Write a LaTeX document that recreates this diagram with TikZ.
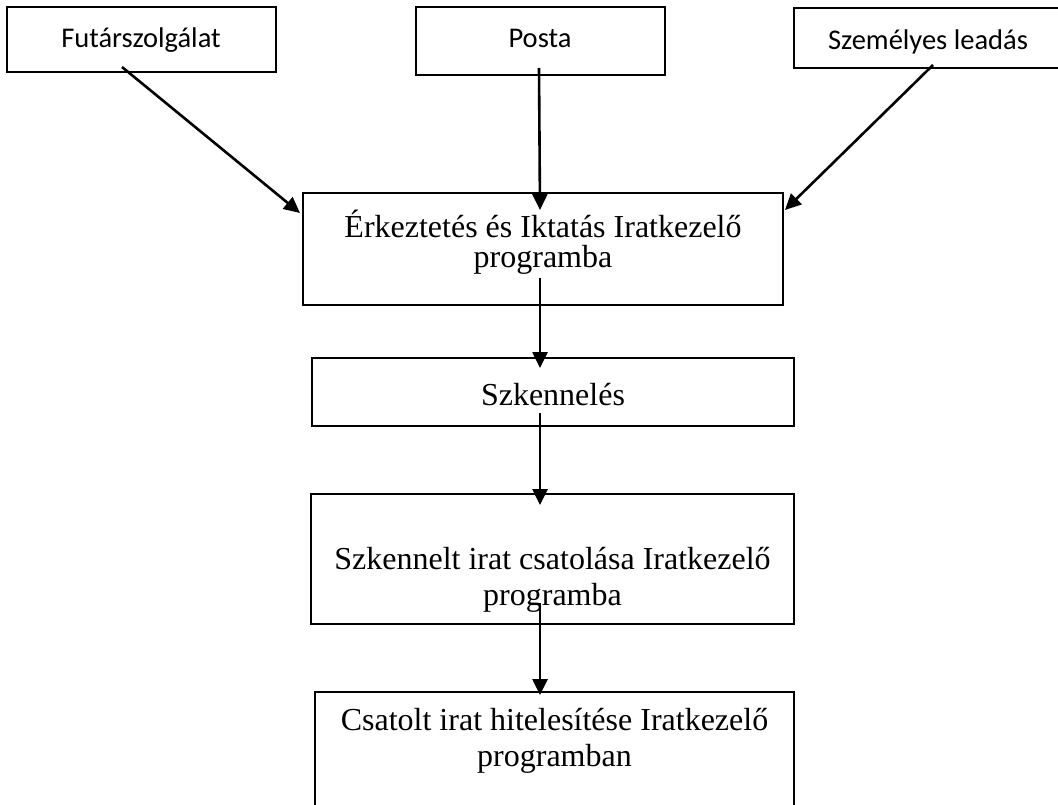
\documentclass[tikz,border=0pt]{standalone}
\usepackage{fontspec}
\setmainfont{Liberation Serif}
\newfontfamily\calibrilike{Carlito}
\usetikzlibrary{arrows.meta}

\begin{document}
\begin{tikzpicture}[x=1pt, y=-1pt,
    box/.style={draw=black, line width=2.2pt, inner sep=0pt},
    sanslabel/.style={font=\calibrilike\fontsize{28.5}{34}\selectfont, anchor=base, inner sep=0pt},
    seriflabel/.style={font=\fontsize{32}{37}\selectfont, anchor=base, inner sep=0pt},
    flow/.style={line width=2.6pt, -{Triangle[length=16pt, width=15pt]}}]
  \useasboundingbox (0,0) rectangle (1058,805);
  \clip (0,0) rectangle (1058,805);

  % source boxes
  \node[box, minimum width=269pt, minimum height=65pt] (fut) at (141.5,39.5) {};
  \node[box, minimum width=249pt, minimum height=68pt] (posta) at (540.5,41) {};
  \node[box, minimum width=270pt, minimum height=60pt] (szem) at (929,38) {};
  \node[sanslabel] (futT) at (141,48) {Futárszolgálat};
  \node[sanslabel] (postaT) at (540,48) {Posta};
  \node[sanslabel] (szemT) at (928,50) {Személyes leadás};

  % process boxes
  \node[box, minimum width=480pt, minimum height=112pt] (erk) at (543,249) {};
  \node[seriflabel] (erkA) at (543,238) {Érkeztetés és Iktatás Iratkezelő};
  \node[seriflabel] (erkB) at (543,268) {programba};

  \node[box, minimum width=482pt, minimum height=68pt] (szk) at (553,392) {};
  \node[seriflabel] (szkT) at (553,405) {Szkennelés};

  \node[box, minimum width=483pt, minimum height=130pt] (csat) at (552.5,559) {};
  \node[seriflabel] (csatA) at (552.5,569) {Szkennelt irat csatolása Iratkezelő};
  \node[seriflabel] (csatB) at (552.5,605) {programba};

  \node[box, minimum width=479pt, minimum height=140pt] (hit) at (554.5,762) {};
  \node[seriflabel] (hitA) at (554.5,730) {Csatolt irat hitelesítése Iratkezelő};
  \node[seriflabel] (hitB) at (554.5,766) {programban};

  % connector end points
  \coordinate (futOut) at (122,67);
  \coordinate (erkInL) at (300,213);
  \coordinate (postaOut) at (539,68);
  \coordinate (erkInM) at (540,210);
  \coordinate (szemOut) at (933,65);
  \coordinate (erkInR) at (785,210);
  \coordinate (erkOut) at (540,278);
  \coordinate (szkIn) at (540,368);
  \coordinate (szkOut) at (540,413);
  \coordinate (csatIn) at (540,505);
  \coordinate (csatOut) at (540,603);
  \coordinate (hitIn) at (540,695);

  % connectors
  \draw[flow] (futOut) -- (erkInL);
  \draw[flow] (postaOut) -- (erkInM);
  \draw[flow] (szemOut) -- (erkInR);
  \draw[flow] (erkOut) -- (szkIn);
  \draw[flow] (szkOut) -- (csatIn);
  \draw[flow] (csatOut) -- (hitIn);
\end{tikzpicture}
\end{document}
